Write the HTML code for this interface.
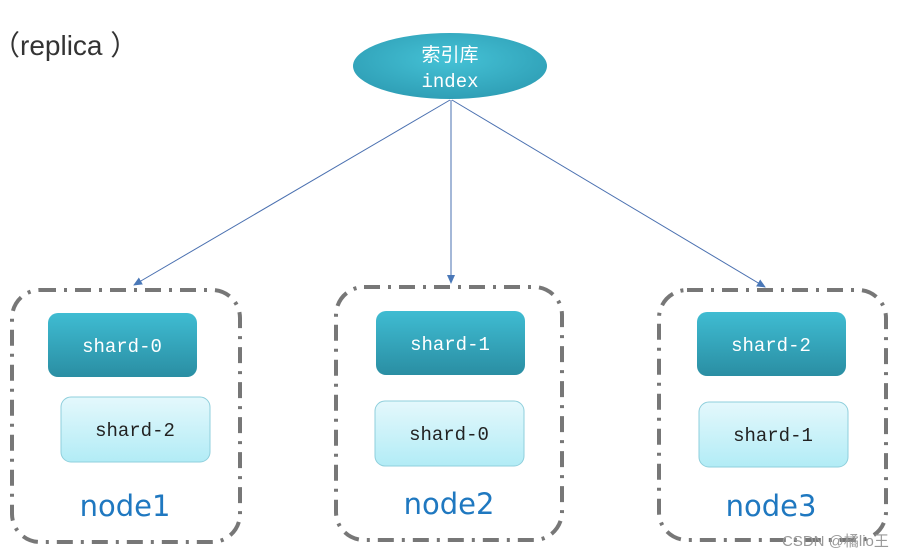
<!DOCTYPE html>
<html><head><meta charset="utf-8"><style>body{margin:0;background:#fff}svg{display:block}</style></head><body>
<svg width="916" height="556" viewBox="0 0 916 556" xmlns="http://www.w3.org/2000/svg">
<defs>
<linearGradient id="dk" x1="0" y1="0" x2="0" y2="1"><stop offset="0" stop-color="#3fbcd2"/><stop offset="1" stop-color="#2a8ea3"/></linearGradient>
<linearGradient id="lt" x1="0" y1="0" x2="0" y2="1"><stop offset="0" stop-color="#e4f8fc"/><stop offset="1" stop-color="#b2ecf6"/></linearGradient>
<radialGradient id="el" cx="0.5" cy="0.4" r="0.6"><stop offset="0" stop-color="#45c2d6"/><stop offset="1" stop-color="#2f9fb6"/></radialGradient>
<marker id="ar" markerWidth="10" markerHeight="10" refX="8" refY="4" orient="auto" markerUnits="userSpaceOnUse"><path d="M0,0 L9,4 L0,8 Z" fill="#4a78b8"/></marker>
</defs>
<text x="-8" y="55" font-family="Liberation Sans, Noto Sans CJK SC, sans-serif" font-size="28" fill="#333">（replica ）</text>
<g stroke="#4a70b0" stroke-width="1" fill="none">
<line x1="450" y1="100" x2="134" y2="285" marker-end="url(#ar)"/>
<line x1="451" y1="100" x2="451" y2="283" marker-end="url(#ar)"/>
<line x1="452" y1="100" x2="765" y2="287" marker-end="url(#ar)"/>
</g>
<ellipse cx="450" cy="66" rx="97" ry="33" fill="url(#el)"/>
<text x="450" y="61" text-anchor="middle" font-family="Noto Sans CJK SC, sans-serif" font-size="19" fill="#fff">索引库</text>
<text x="450" y="87" text-anchor="middle" font-family="Liberation Mono, monospace" font-size="19" fill="#fff">index</text>
<g fill="none" stroke="#777" stroke-width="4" stroke-dasharray="16,8,3,8">
<rect x="12" y="290" width="228" height="252" rx="28"/>
<rect x="336" y="287" width="226" height="253" rx="28"/>
<rect x="659" y="290" width="227" height="250" rx="28"/>
</g>
<g font-family="Liberation Mono, monospace" font-size="19" text-anchor="middle">
<rect x="48" y="313" width="149" height="64" rx="10" fill="url(#dk)"/>
<text x="122" y="352" fill="#fff">shard-0</text>
<rect x="61" y="397" width="149" height="65" rx="10" fill="url(#lt)" stroke="#8fcfdc"/>
<text x="135" y="436" fill="#222">shard-2</text>
<rect x="376" y="311" width="149" height="64" rx="10" fill="url(#dk)"/>
<text x="450" y="350" fill="#fff">shard-1</text>
<rect x="375" y="401" width="149" height="65" rx="10" fill="url(#lt)" stroke="#8fcfdc"/>
<text x="449" y="440" fill="#222">shard-0</text>
<rect x="697" y="312" width="149" height="64" rx="10" fill="url(#dk)"/>
<text x="771" y="351" fill="#fff">shard-2</text>
<rect x="699" y="402" width="149" height="65" rx="10" fill="url(#lt)" stroke="#8fcfdc"/>
<text x="773" y="441" fill="#222">shard-1</text>
</g>
<g font-family="DejaVu Sans, Liberation Sans, sans-serif" font-size="29" fill="#1f78c0" text-anchor="middle">
<text x="125" y="516">node1</text>
<text x="449" y="514">node2</text>
<text x="771" y="516">node3</text>
</g>
<text x="782" y="546" font-family="Liberation Sans, Noto Sans CJK SC, sans-serif" font-size="15" fill="#999">CSDN @橘lio王</text>
</svg>
</body></html>
